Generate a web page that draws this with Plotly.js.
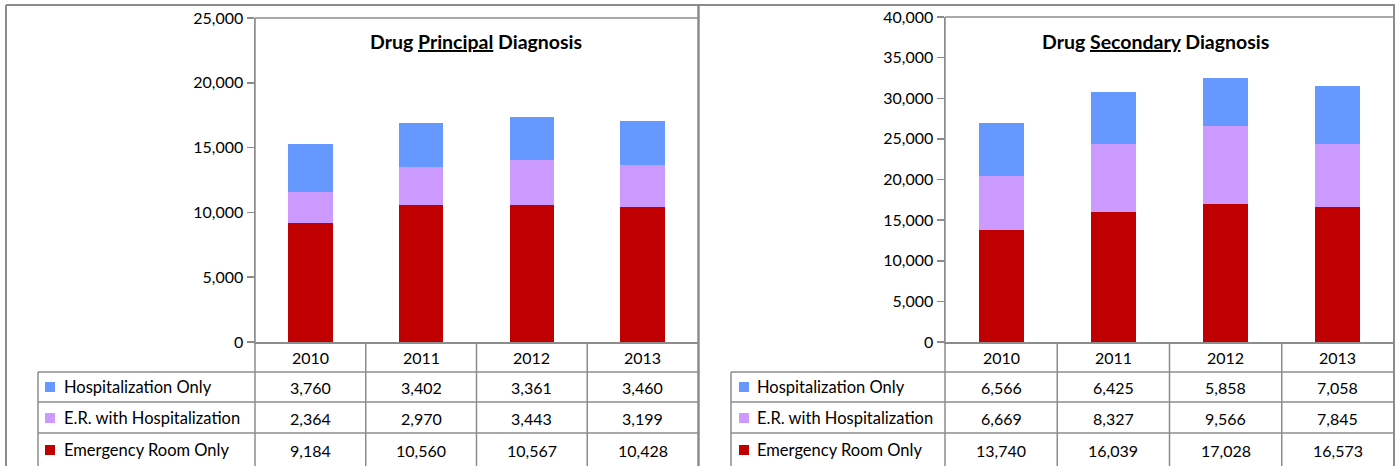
<!DOCTYPE html>
<html>
<head>
<meta charset="utf-8">
<script src="https://cdn.plot.ly/plotly-3.0.1.min.js"></script>
<style>html,body{margin:0;padding:0;background:#fff;}#chart{width:1397px;height:466px;}</style>
</head>
<body>
<div id="chart"></div>
<script>
// ---------- DATA ----------
const years = ['2010', '2011', '2012', '2013'];
const seriesNames = ['Hospitalization Only', 'E.R. with Hospitalization', 'Emergency Room Only'];
const principalHosp = [3760, 3402, 3361, 3460];
const principalERHosp = [2364, 2970, 3443, 3199];
const principalER = [9184, 10560, 10567, 10428];
const secondaryHosp = [6566, 6425, 5858, 7058];
const secondaryERHosp = [6669, 8327, 9566, 7845];
const secondaryER = [13740, 16039, 17028, 16573];
const leftTitle = 'Drug <u>Principal</u> Diagnosis';
const rightTitle = 'Drug <u>Secondary</u> Diagnosis';

// ---------- STYLE ----------
const W = 1397, H = 466;
const colHosp = '#6699FF', colERHosp = '#CC99FF', colER = '#C00000';
const gridCol = '#8c8c8c';
const FONT = 'Lato, "Open Sans", sans-serif';
const px = x => x / W;
const py = y => 1 - y / H;

function fmt(v) { return v.toLocaleString('en-US'); }

const traces = [
  {type: 'bar', x: years, y: principalER, name: seriesNames[2], marker: {color: colER}, xaxis: 'x', yaxis: 'y'},
  {type: 'bar', x: years, y: principalERHosp, name: seriesNames[1], marker: {color: colERHosp}, xaxis: 'x', yaxis: 'y'},
  {type: 'bar', x: years, y: principalHosp, name: seriesNames[0], marker: {color: colHosp}, xaxis: 'x', yaxis: 'y'},
  {type: 'bar', x: years, y: secondaryER, name: seriesNames[2], marker: {color: colER}, xaxis: 'x2', yaxis: 'y2'},
  {type: 'bar', x: years, y: secondaryERHosp, name: seriesNames[1], marker: {color: colERHosp}, xaxis: 'x2', yaxis: 'y2'},
  {type: 'bar', x: years, y: secondaryHosp, name: seriesNames[0], marker: {color: colHosp}, xaxis: 'x2', yaxis: 'y2'}
];

const shapes = [];
const annotations = [];
function line(x0, y0, x1, y1, w) {
  shapes.push({type: 'line', xref: 'paper', yref: 'paper',
    x0: px(x0), x1: px(x1), y0: py(y0), y1: py(y1),
    line: {color: gridCol, width: w || 1.5}});
}

// frames
line(6, 5, 1395, 5, 2);
line(6, 5, 6, 466, 2);
line(698.5, 5, 698.5, 466, 2.5);
line(1394, 5, 1394, 466, 2);

const rowLines = [372, 402, 433];
const rowCenters = [387, 418, 450];
const yearRowCenter = 357;
const TXT = {family: FONT, size: 16, color: '#000'};

function buildPanel(opts) {
  const {xref, axisX, plotTop, plotRight, tableLeft, keyX, labelX, series, title, titleX} = opts;
  line(axisX, plotTop, plotRight, plotTop, 1.5);
  line(axisX, plotTop, axisX, 466, 1.5);
  line(tableLeft, 372, tableLeft, 466, 1.5);
  rowLines.forEach(y => line(tableLeft, y, plotRight, y, 1.5));
  for (let i = 0; i < years.length - 1; i++) {
    shapes.push({type: 'line', xref: xref, yref: 'paper', x0: i + 0.5, x1: i + 0.5,
      y0: py(342), y1: py(466), line: {color: gridCol, width: 1.5}});
  }
  years.forEach((yr, i) => annotations.push({xref: xref, yref: 'paper', x: i, y: py(yearRowCenter),
    text: yr, showarrow: false, xanchor: 'center', yanchor: 'middle', font: TXT}));
  const keyColors = [colHosp, colERHosp, colER];
  series.forEach((vals, r) => {
    shapes.push({type: 'rect', xref: 'paper', yref: 'paper', x0: px(keyX), x1: px(keyX + 10),
      y0: py(rowCenters[r] + 5), y1: py(rowCenters[r] - 5), fillcolor: keyColors[r], line: {width: 0}});
    annotations.push({xref: 'paper', yref: 'paper', x: px(labelX), y: py(rowCenters[r]), text: seriesNames[r],
      showarrow: false, xanchor: 'left', yanchor: 'middle', font: {family: FONT, size: 16.5, color: '#000'}});
    vals.forEach((v, i) => annotations.push({xref: xref, yref: 'paper', x: i, y: py(rowCenters[r]),
      text: fmt(v), showarrow: false, xanchor: 'center', yanchor: 'middle', font: TXT}));
  });
  annotations.push({xref: 'paper', yref: 'paper', x: px(titleX), y: py(41), text: '<b>' + title + '</b>',
    showarrow: false, xanchor: 'center', yanchor: 'middle', font: {family: FONT, size: 19.5, color: '#000'}});
}

buildPanel({xref: 'x', axisX: 255, plotTop: 18, plotRight: 698, tableLeft: 38, keyX: 45, labelX: 62,
  series: [principalHosp, principalERHosp, principalER], title: leftTitle, titleX: 476});
buildPanel({xref: 'x2', axisX: 945, plotTop: 17, plotRight: 1394, tableLeft: 731, keyX: 739, labelX: 755,
  series: [secondaryHosp, secondaryERHosp, secondaryER], title: rightTitle, titleX: 1155});

const yAxisCommon = {
  showgrid: false, zeroline: false, showline: true, linecolor: gridCol, linewidth: 1.5,
  ticks: 'outside', ticklen: 7, tickcolor: gridCol, tickwidth: 1.5, tickformat: ',d',
  tickfont: {family: FONT, size: 16, color: '#000'}, fixedrange: true
};
const xAxisCommon = {
  type: 'category', range: [-0.5, 3.5], showgrid: false, zeroline: false, showline: true,
  linecolor: gridCol, linewidth: 1.5, showticklabels: false, ticks: '', fixedrange: true
};

const layout = {
  width: W, height: H,
  margin: {l: 0, r: 0, t: 0, b: 0},
  paper_bgcolor: '#fff', plot_bgcolor: '#fff',
  showlegend: false,
  barmode: 'stack', bargap: 0.6,
  font: {family: FONT, color: '#000'},
  xaxis: Object.assign({}, xAxisCommon, {domain: [px(255), px(698)], anchor: 'y'}),
  yaxis: Object.assign({}, yAxisCommon, {domain: [py(342), py(18)], range: [0, 25000], dtick: 5000, anchor: 'x'}),
  xaxis2: Object.assign({}, xAxisCommon, {domain: [px(945), px(1394)], anchor: 'y2'}),
  yaxis2: Object.assign({}, yAxisCommon, {domain: [py(342), py(17)], range: [0, 40000], dtick: 5000, anchor: 'x2'}),
  shapes: shapes,
  annotations: annotations
};

Plotly.newPlot('chart', traces, layout, {displayModeBar: false, staticPlot: true});
</script>
</body>
</html>
